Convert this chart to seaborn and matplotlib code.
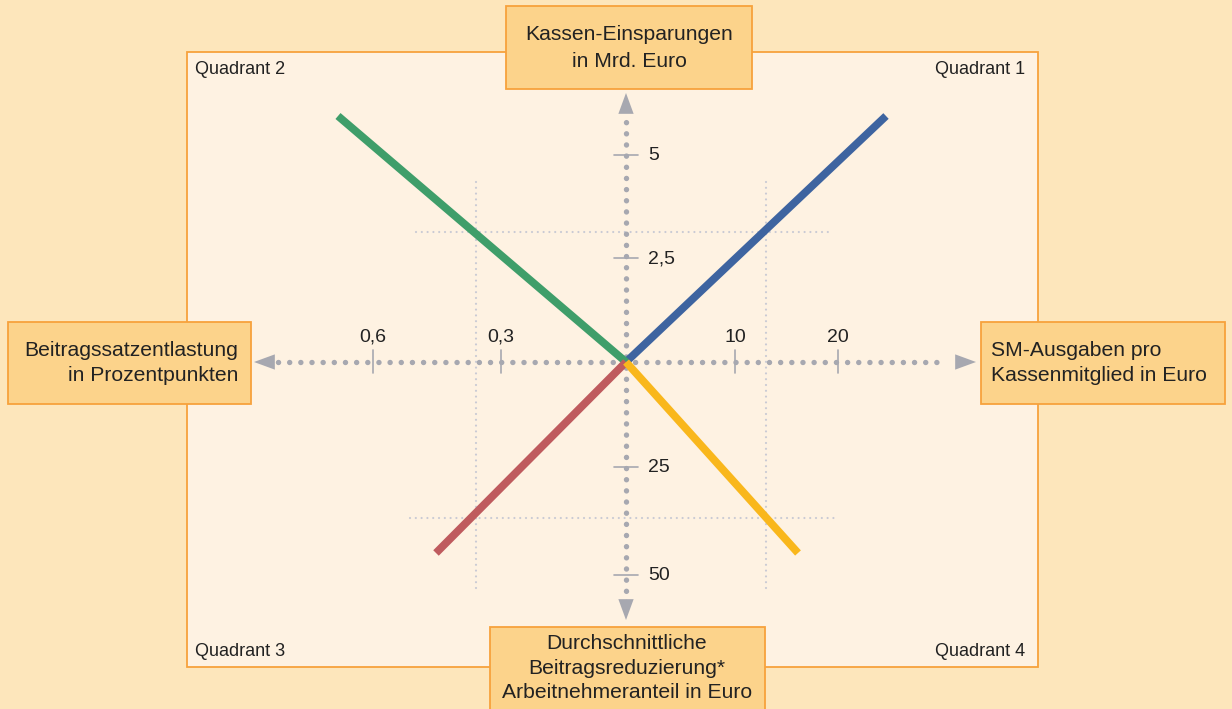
import numpy as np
import pandas as pd
import matplotlib
matplotlib.use("Agg")
import matplotlib.pyplot as plt
from matplotlib.patches import Rectangle
import seaborn as sns

# --- DATA ---
# chart coordinates: origin at the crossing of the two axes, 1 unit ~ 1 px
quadrants = ["Quadrant 1", "Quadrant 2", "Quadrant 3", "Quadrant 4"]
line_end_x = [260, -288, -190, 172]
line_end_y = [246, 246, -191, -191]
line_colors = ["#3e64a0", "#3f9e6a", "#bf5b5e", "#f9b71c"]

right_tick_labels = ["10", "20"]
right_tick_pos = [109, 212]
left_tick_labels = ["0,6", "0,3"]
left_tick_pos = [-253, -125]
up_tick_labels = ["5", "2,5"]
up_tick_pos = [207, 104]
down_tick_labels = ["25", "50"]
down_tick_pos = [-105, -213]

top_title = "Kassen-Einsparungen\nin Mrd. Euro"
left_title = "Beitragssatzentlastung\nin Prozentpunkten"
right_title = "SM-Ausgaben pro\nKassenmitglied in Euro"
bottom_title = "Durchschnittliche\nBeitragsreduzierung*\nArbeitnehmeranteil in Euro"

# --- STYLE ---
sns.set_theme(style="white")
plt.rcParams['font.family'] = ['Liberation Sans', 'DejaVu Sans']

BG = "#fde6bb"
PANEL = "#fef2e2"
BOX = "#fcd38b"
EDGE = "#f7a23c"
AXIS = "#a7a8b0"
GRID = "#c9cad4"
TEXT = "#222222"

fig = plt.figure(figsize=(12.32, 7.09), dpi=100, facecolor=BG)
ax = fig.add_axes([0, 0, 1, 1])
ax.set_xlim(-626, 606)
ax.set_ylim(-347, 362)
ax.set_facecolor(BG)
ax.axis("off")

# inner panel
ax.add_patch(Rectangle((-439, -305), 851, 615, facecolor=PANEL, edgecolor=EDGE, lw=1.3, zorder=0))

# light dotted guide lines
guide = dict(color=GRID, lw=1.6, ls=(0, (0.01, 2.6)), dash_capstyle="round", zorder=1)
for gx in [-150, 140]:
    ax.plot([gx, gx], [-226, 182], **guide)
ax.plot([-210, 204], [130, 130], **guide)
ax.plot([-216, 212], [-156, -156], **guide)

# main dotted axes
dot = dict(color=AXIS, lw=3.9, ls=(0, (0.01, 2.05)), dash_capstyle="round", zorder=2)
ax.plot([-348, 320], [0, 0], **dot)
ax.plot([0, 0], [-240, 246], **dot)

# arrow heads
head = dict(arrowstyle="-|>,head_length=1.5,head_width=0.55", color=AXIS, lw=0,
            shrinkA=0, shrinkB=0, mutation_scale=10)
ax.annotate("", xy=(-372, 0), xytext=(-352, 0), arrowprops=head, zorder=3)
ax.annotate("", xy=(350, 0), xytext=(330, 0), arrowprops=head, zorder=3)
ax.annotate("", xy=(0, 269), xytext=(0, 249), arrowprops=head, zorder=3)
ax.annotate("", xy=(0, -258), xytext=(0, -238), arrowprops=head, zorder=3)

# ticks on horizontal axis
for pos, lab in zip(left_tick_pos + right_tick_pos, left_tick_labels + right_tick_labels):
    ax.plot([pos, pos], [-11, 12], color=AXIS, lw=1.2, zorder=3)
    ax.text(pos, 16, lab, ha="center", va="bottom", fontsize=14, color=TEXT)

# ticks on vertical axis
for pos, lab in zip(up_tick_pos + down_tick_pos, up_tick_labels + down_tick_labels):
    ax.plot([-12, 12], [pos, pos], color=AXIS, lw=1.2, zorder=3)
    ax.text(22, pos - 1, lab, ha="left", va="center", fontsize=14, color=TEXT)

# the four quadrant lines
rows = []
for q, ex, ey in zip(quadrants, line_end_x, line_end_y):
    rows.append({"quadrant": q, "x": 0, "y": 0})
    rows.append({"quadrant": q, "x": ex, "y": ey})
df = pd.DataFrame(rows)
sns.lineplot(data=df, x="x", y="y", hue="quadrant", palette=line_colors, sort=False,
             estimator=None, linewidth=5.6, legend=False, ax=ax, zorder=4,
             solid_capstyle="butt")
ax.set_xlabel("")
ax.set_ylabel("")

# axis title boxes
boxes = [
    ((-120, 273), 246, 83, top_title, 3, 314, "center", 1.5),
    ((-618, -42), 243, 82, left_title, -388, -1, "right", 1.35),
    ((355, -42), 244, 82, right_title, 365, -1, "left", 1.35),
    ((-136, -352), 275, 87, bottom_title, 1, -306, "center", 1.35),
]
for (bx, by), w, h, txt, tx, ty, ha, ls in boxes:
    ax.add_patch(Rectangle((bx, by), w, h, facecolor=BOX, edgecolor=EDGE, lw=1.3, zorder=5))
    ax.text(tx, ty, txt, ha=ha, va="center", multialignment=ha, fontsize=15.2,
            color=TEXT, linespacing=ls, zorder=6)

# quadrant names
qfont = 13
ax.text(-431, 292, "Quadrant 2", ha="left", va="center", fontsize=qfont, color=TEXT)
ax.text(399, 292, "Quadrant 1", ha="right", va="center", fontsize=qfont, color=TEXT)
ax.text(-431, -289, "Quadrant 3", ha="left", va="center", fontsize=qfont, color=TEXT)
ax.text(399, -289, "Quadrant 4", ha="right", va="center", fontsize=qfont, color=TEXT)

fig.savefig("out.png", dpi=100, facecolor=BG)
